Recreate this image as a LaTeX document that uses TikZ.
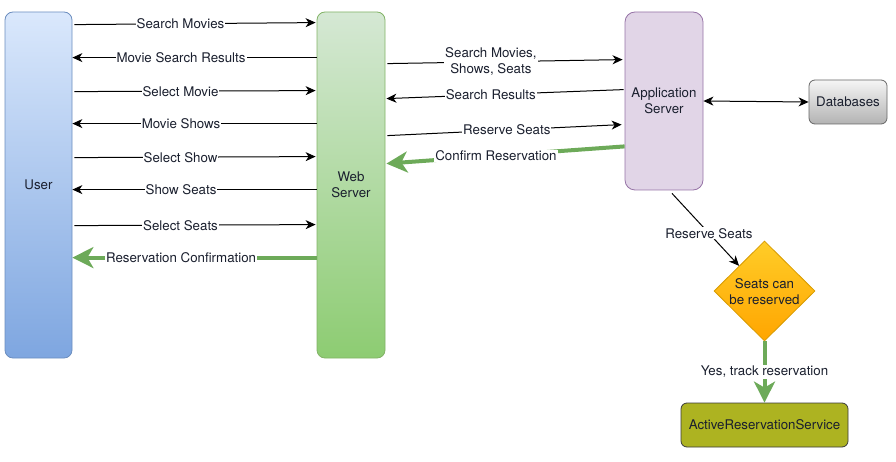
\documentclass[tikz,border=0pt]{standalone}
\usepackage{fontspec}
\setmainfont{TeX Gyre Heros}
\usetikzlibrary{arrows.meta,calc,shapes.geometric}
\definecolor{txtc}{HTML}{1A1F2E}
\definecolor{userTop}{HTML}{DAE8FC}
\definecolor{userBot}{HTML}{7EA6E0}
\definecolor{userBd}{HTML}{6C8EBF}
\definecolor{webTop}{HTML}{D5E8D4}
\definecolor{webBot}{HTML}{8DCC72}
\definecolor{webBd}{HTML}{82B366}
\definecolor{appFill}{HTML}{E1D5E7}
\definecolor{appBd}{HTML}{9673A6}
\definecolor{dbTop}{HTML}{F5F5F5}
\definecolor{dbBot}{HTML}{B3B3B3}
\definecolor{dbBd}{HTML}{666666}
\definecolor{diaTop}{HTML}{FFCD28}
\definecolor{diaBot}{HTML}{FFA500}
\definecolor{diaBd}{HTML}{D79B00}
\definecolor{arsFill}{HTML}{ADB321}
\definecolor{arsBd}{HTML}{3A3A3A}
\definecolor{grn}{HTML}{6DAA59}
\tikzset{
  every node/.style={font=\fontsize{13.3}{16}\selectfont, text=txtc},
  box/.style={draw, line width=0.8pt, rounded corners=8pt, align=center, inner sep=0pt},
  blk/.style={draw=black, line width=1pt, -{Stealth[length=10pt,width=9pt,inset=3pt]}},
  blkboth/.style={draw=black, line width=1pt, {Stealth[length=10pt,width=9pt,inset=3pt]}-{Stealth[length=10pt,width=9pt,inset=3pt]}},
  grnarr/.style={draw=grn, line width=4pt, -{Stealth[length=21pt,width=21pt,inset=6pt]}},
  lbl/.style={fill=white, inner sep=1pt, align=center}
}
\begin{document}
\begin{tikzpicture}[x=1pt,y=-1pt]
\useasboundingbox (0,0) rectangle (896,462);
% boxes
\node[box, top color=userTop, bottom color=userBot, draw=userBd, minimum width=67pt, minimum height=346pt] (user) at (38.5,185) {User};
\node[box, top color=webTop, bottom color=webBot, draw=webBd, minimum width=68pt, minimum height=346pt] (web) at (351,185) {Web\\Server};
\node[box, fill=appFill, draw=appBd, rounded corners=10pt, minimum width=78pt, minimum height=178pt] (app) at (664,101) {Application\\Server};
\node[box, top color=dbTop, bottom color=dbBot, draw=dbBd, rounded corners=6pt, minimum width=78pt, minimum height=44pt] (db) at (848,102) {Databases};
\node[diamond, draw=diaBd, line width=0.8pt, top color=diaTop, bottom color=diaBot, minimum width=101pt, minimum height=100pt, inner sep=0pt] (dia) at (764.5,291) {};
\node[align=center] (diatxt) at ($(dia.center)+(0,1)$) {Seats can\\be reserved};
\node[box, fill=arsFill, draw=arsBd, rounded corners=6pt, minimum width=167pt, minimum height=44pt] (ars) at (764.5,425) {ActiveReservationService};
% user <-> web
\draw[blk] ($(user.north east)+(2,13)$) -- node[lbl,pos=.44]{Search Movies} ($(web.north west)+(-1,11)$);
\draw[blk] ($(web.north west)+(0,46)$) -- node[lbl,pos=.555]{Movie Search Results} ($(user.north east)+(0,46)$);
\draw[blk] ($(user.north east)+(2,80)$) -- node[lbl,pos=.44]{Select Movie} ($(web.north west)+(-1,79)$);
\draw[blk] ($(web.north west)+(0,112)$) -- node[lbl,pos=.555]{Movie Shows} ($(user.north east)+(0,112)$);
\draw[blk] ($(user.north east)+(2,146)$) -- node[lbl,pos=.44]{Select Show} ($(web.north west)+(-1,145)$);
\draw[blk] ($(web.north west)+(0,178)$) -- node[lbl,pos=.555]{Show Seats} ($(user.north east)+(0,178)$);
\draw[blk] ($(user.north east)+(2,214)$) -- node[lbl,pos=.44]{Select Seats} ($(web.north west)+(-1,213)$);
\draw[grnarr] ($(web.north west)+(0,246)$) -- node[lbl,pos=.555]{Reservation Confirmation} ($(user.north east)+(0,246)$);
% web <-> app
\draw[blk] ($(web.north east)+(2,52)$) -- node[lbl,pos=.44]{Search Movies,\\Shows, Seats} ($(app.north west)+(-2,48)$);
\draw[blk] ($(app.north west)+(-1,78)$) -- node[lbl,pos=.56]{Search Results} ($(web.north east)+(1,87)$);
\draw[blk] ($(web.north east)+(2,124)$) -- node[lbl,pos=.51]{Reserve Seats} ($(app.north west)+(-3,113)$);
\draw[grnarr] ($(app.south west)+(0,-44)$) -- node[lbl,pos=.54]{Confirm Reservation} ($(web.north east)+(1,152)$);
% app <-> db
\draw[blkboth] (app.east) -- (db.west);
% app -> diamond -> ars
\draw[blk] ($(app.south)+(8,3)$) -- node[lbl,pos=.55]{Reserve Seats} ($(dia.north)!0.5!(dia.west)$);
\draw[grnarr] (dia.south) -- node[lbl,pos=.5]{Yes, track reservation} (ars.north);
\end{tikzpicture}
\end{document}
